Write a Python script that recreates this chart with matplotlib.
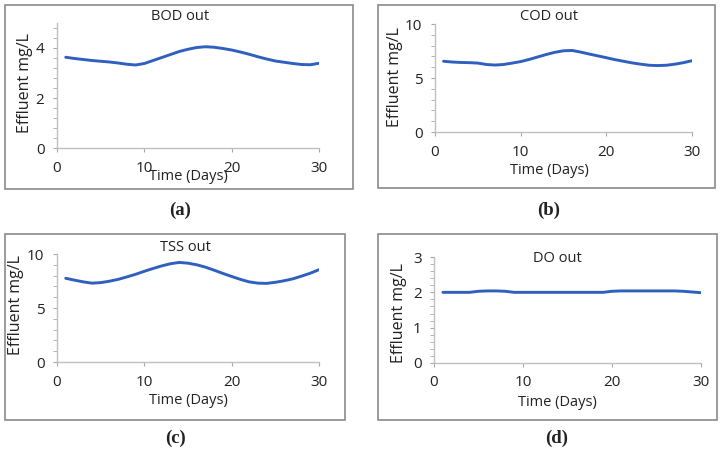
import matplotlib.pyplot as plt
from matplotlib.patches import Rectangle
from matplotlib.ticker import MultipleLocator

days = list(range(1, 31))

bod = [3.63, 3.58, 3.54, 3.50, 3.47, 3.44, 3.40, 3.35, 3.32, 3.38,
       3.50, 3.62, 3.74, 3.86, 3.95, 4.02, 4.05, 4.03, 3.98, 3.92,
       3.84, 3.75, 3.65, 3.56, 3.48, 3.43, 3.38, 3.34, 3.33, 3.39]
cod = [6.55, 6.48, 6.44, 6.42, 6.38, 6.25, 6.20, 6.25, 6.38, 6.52,
       6.72, 6.95, 7.18, 7.38, 7.52, 7.55, 7.40, 7.22, 7.05, 6.88,
       6.70, 6.55, 6.40, 6.28, 6.18, 6.15, 6.18, 6.28, 6.42, 6.60]
tss = [7.75, 7.58, 7.42, 7.30, 7.35, 7.48, 7.65, 7.88, 8.12, 8.40,
       8.66, 8.90, 9.10, 9.22, 9.15, 9.00, 8.78, 8.50, 8.20, 7.92,
       7.65, 7.42, 7.30, 7.28, 7.38, 7.52, 7.70, 7.95, 8.22, 8.55]
do = [2.00, 2.00, 2.00, 2.00, 2.03, 2.04, 2.04, 2.03, 2.00, 2.00,
      2.00, 2.00, 2.00, 2.00, 2.00, 2.00, 2.00, 2.00, 2.00, 2.03,
      2.04, 2.04, 2.04, 2.04, 2.04, 2.04, 2.04, 2.03, 2.01, 1.99]

titles = ["BOD out", "COD out", "TSS out", "DO out"]
letters = ["(a)", "(b)", "(c)", "(d)"]

W, H = 724, 455
plt.rcParams['font.family'] = ['Open Sans', 'DejaVu Sans']

fig = plt.figure(figsize=(W / 100, H / 100), dpi=100)


def px(x, y):
    return x / W, 1 - y / H


# panel layout in pixels: axes (left, right, top, bottom), frame, title, xlabel, ylabel, letter
panels = [
    dict(data=bod, ylim=5, major=2, minor=0.4, ax=(57, 319, 23, 148), frame=(5, 353, 5, 189),
         title=(180, 16), xl=(188, 176), yl=(25, 83), let=(180, 210)),
    dict(data=cod, ylim=10, major=5, minor=1, ax=(435, 692, 24, 132), frame=(378, 715, 5, 188),
         title=(549, 16), xl=(549, 170), yl=(395, 77), let=(549, 210)),
    dict(data=tss, ylim=10, major=5, minor=1, ax=(57, 319, 254, 362), frame=(5, 345, 234, 420),
         title=(185, 248), xl=(188, 400), yl=(16, 305), let=(175, 438)),
    dict(data=do, ylim=3, major=1, minor=0.2, ax=(434, 701, 257, 363), frame=(378, 717, 234, 420),
         title=(557, 259), xl=(557, 403), yl=(399, 313), let=(557, 438)),
]

for i, p in enumerate(panels):
    l, r, t, b = p["ax"]
    ax = fig.add_axes([l / W, 1 - b / H, (r - l) / W, (b - t) / H])
    ax.plot(days, p["data"], color="#2f5fbf", lw=2.1, solid_capstyle="round")
    ax.set_xlim(0, 30)
    ax.set_ylim(0, p["ylim"])
    ax.set_xticks([0, 10, 20, 30])
    ax.yaxis.set_major_locator(MultipleLocator(p["major"]))
    ax.yaxis.set_minor_locator(MultipleLocator(p["minor"]))
    for s in ["top", "right"]:
        ax.spines[s].set_visible(False)
    for s in ["left", "bottom"]:
        ax.spines[s].set_color("#c0c0c0")
        ax.spines[s].set_linewidth(1)
    ax.tick_params(which="both", color="#a8a8a8", labelsize=11, labelcolor="#222222")
    ax.tick_params(axis="y", which="major", length=3, pad=6)
    ax.tick_params(axis="y", which="minor", length=3)
    ax.tick_params(axis="x", length=3, pad=6)
    ax.patch.set_alpha(0)

    fl, fr, ft, fb = p["frame"]
    fig.patches.append(Rectangle(px(fl, fb), (fr - fl) / W, (fb - ft) / H, transform=fig.transFigure,
                                 fill=False, edgecolor="#8a8a8a", lw=1.2))

    fig.text(*px(*p["title"]), titles[i], ha="center", va="center", fontsize=10.5, color="#222222")
    fig.text(*px(*p["xl"]), "Time (Days)", ha="center", va="center", fontsize=10.5, color="#222222")
    fig.text(*px(*p["yl"]), "Effluent mg/L", ha="center", va="center", rotation=90,
             fontsize=11.5, color="#222222")
    fig.text(*px(*p["let"]), letters[i], ha="center", va="center", fontsize=13.5, fontweight="bold",
             family="Liberation Serif", color="#222222")

fig.savefig("out.png", dpi=100)
